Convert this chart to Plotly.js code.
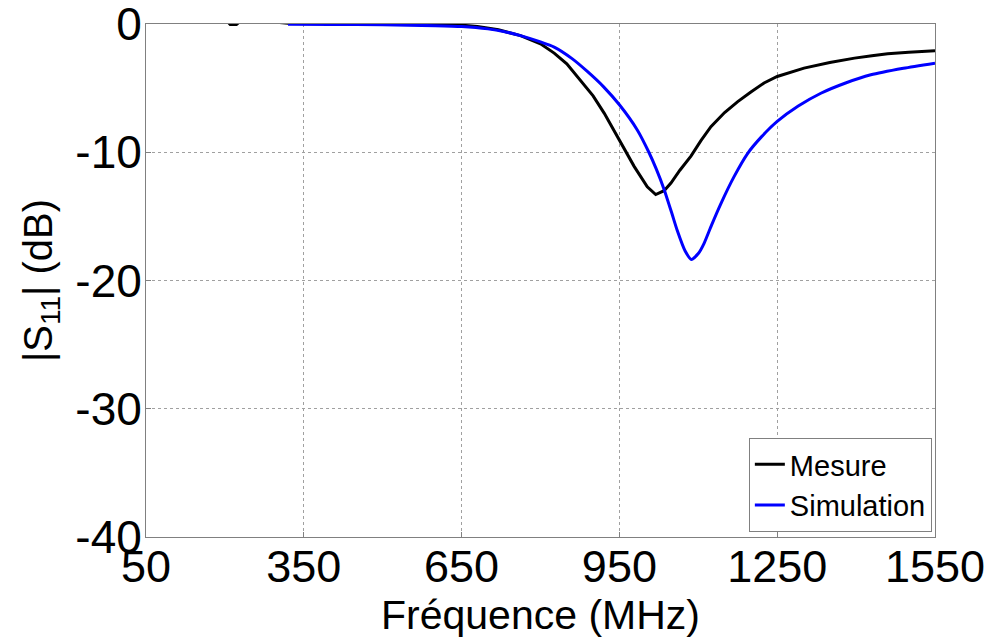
<!DOCTYPE html>
<html>
<head>
<meta charset="utf-8">
<script src="https://cdn.plot.ly/plotly-3.0.1.min.js"></script>
<style>html,body{margin:0;padding:0;background:#fff;}#chart{width:986px;height:642px;}</style>
</head>
<body>
<div id="chart"></div>
<script>
// Measured |S11| (dB) vs frequency (MHz)
const freqMesure = [50, 200, 210, 222, 235, 320, 450, 600, 640, 680, 720, 762, 800, 826, 850, 870, 900, 921, 950, 965, 978, 1003, 1019, 1035, 1048, 1065, 1086, 1105, 1124, 1150, 1175, 1200, 1225, 1250, 1275, 1301, 1350, 1397, 1430, 1460, 1500, 1550];
const dbMesure = [0.4, 0.4, -0.03, -0.03, 0.4, 0.05, 0.05, 0.02, -0.05, -0.2, -0.45, -0.91, -1.55, -2.27, -3.1, -4.09, -5.6, -6.95, -9.04, -10.1, -11.1, -12.7, -13.3, -13.0, -12.4, -11.4, -10.3, -9.1, -8.0, -6.9, -6.05, -5.3, -4.6, -4.09, -3.75, -3.44, -3.0, -2.66, -2.48, -2.32, -2.2, -2.09];

// Simulated |S11| (dB) vs frequency (MHz)
const freqSim = [320, 400, 500, 600, 650, 700, 730, 762, 800, 826, 860, 889, 920, 950, 984, 1006, 1020, 1035, 1050, 1060, 1075, 1087, 1100, 1111, 1125, 1143, 1168, 1194, 1220, 1250, 1290, 1333, 1380, 1428, 1490, 1550];
const dbSim = [-0.02, -0.03, -0.06, -0.13, -0.2, -0.38, -0.58, -0.91, -1.4, -1.8, -2.7, -3.7, -4.9, -6.3, -8.26, -10.0, -11.3, -12.9, -14.8, -16.1, -17.7, -18.36, -17.9, -17.1, -15.7, -14.0, -11.9, -10.08, -8.8, -7.6, -6.4, -5.4, -4.6, -3.96, -3.45, -3.05];

const xTicks = [50, 350, 650, 950, 1250, 1550];
const yTicks = [-40, -30, -20, -10, 0];
const seriesNames = ['Mesure', 'Simulation'];

const FONT = 'Liberation Sans, Arial, sans-serif';

const traces = [
  {x: freqMesure, y: dbMesure, name: seriesNames[0], type: 'scatter', mode: 'lines',
   line: {color: '#000000', width: 3, shape: 'linear'}},
  {x: freqSim, y: dbSim, name: seriesNames[1], type: 'scatter', mode: 'lines',
   line: {color: '#0000ff', width: 3, shape: 'spline', smoothing: 0.6}}
];

const layout = {
  width: 986, height: 642,
  margin: {l: 146, r: 51, t: 24, b: 105},
  paper_bgcolor: '#ffffff', plot_bgcolor: '#ffffff',
  font: {family: FONT, color: '#000'},
  showlegend: true,
  legend: {
    x: 0.996, y: 0.01, xanchor: 'right', yanchor: 'bottom',
    bgcolor: '#ffffff', bordercolor: '#808080', borderwidth: 1,
    font: {family: FONT, size: 29, color: '#000'},
    itemwidth: 30, tracegroupgap: 0
  },
  xaxis: {
    range: [50, 1550], tickvals: xTicks, ticktext: xTicks.map(String),
    showline: true, linecolor: '#808080', linewidth: 1, mirror: true,
    ticks: 'inside', ticklen: 5, tickcolor: '#808080',
    showgrid: true, gridcolor: '#a0a0a0', griddash: 'dot', gridwidth: 1,
    zeroline: false,
    ticklabeloverflow: 'allow', ticklabelstandoff: -10,
    tickfont: {family: FONT, size: 45, color: '#000'},
    title: {text: 'Fréquence (MHz)', font: {family: FONT, size: 41, color: '#000'}, standoff: 2}
  },
  yaxis: {
    range: [-40, 0], tickvals: yTicks, ticktext: yTicks.map(String),
    showline: true, linecolor: '#808080', linewidth: 1, mirror: true,
    ticks: 'inside', ticklen: 5, tickcolor: '#808080',
    showgrid: true, gridcolor: '#a0a0a0', griddash: 'dot', gridwidth: 1,
    zeroline: false,
    ticklabeloverflow: 'allow', ticklabelstandoff: -6,
    tickfont: {family: FONT, size: 46, color: '#000'},
    title: {text: '|S<sub>11</sub>| (dB)', font: {family: FONT, size: 40, color: '#000'}, standoff: 10}
  }
};

Plotly.newPlot('chart', traces, layout, {staticPlot: true, displayModeBar: false});
</script>
</body>
</html>
